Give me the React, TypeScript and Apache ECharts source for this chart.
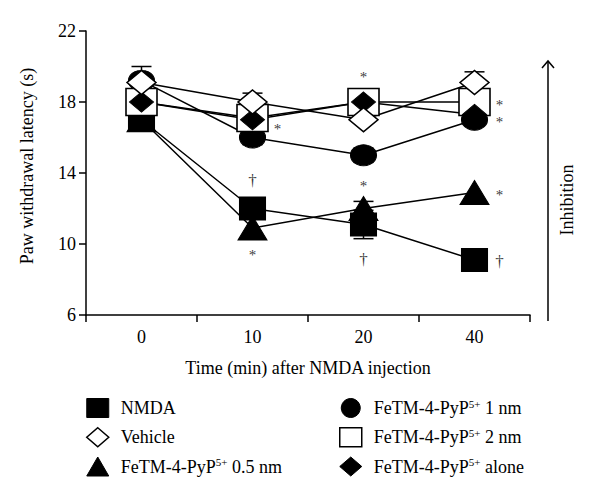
import React, { useEffect, useRef } from "react";
import * as echarts from "echarts";

const times = ["0", "10", "20", "40"];
const yTicks = [6, 10, 14, 18, 22];

const nmda = [17, 12, 11.1, 9.1];
const vehicle = [19.1, 18, 17, 19.1];
const pyp05 = [17, 10.9, 12, 12.9];
const pyp1 = [19.2, 16, 15, 17];
const pyp2 = [18, 17.1, 18, 18];
const alone = [18, 17, 18, 17.3];

const errNmda = [0, 0, 0.8, 0];
const errVehicle = [0, 0.5, 0, 0.6];
const errPyp05 = [0, 0, 0.4, 0];
const errPyp1 = [0.8, 0.4, 0.4, 0];

const annTime = ["10", "10", "10", "20", "20", "20", "40", "40", "40", "40"];
const annValue = [16.6, 13.6, 9.5, 19.5, 13.4, 9.1, 17.95, 17.0, 12.9, 9.0];
const annMark = ["*", "†", "*", "*", "*", "†", "*", "*", "*", "†"];
const annSide = ["right", "center", "center", "center", "center", "center", "right", "right", "right", "right"];

const legendLeft = ["NMDA", "Vehicle", "FeTM-4-PyP5+ 0.5 nm"];
const legendRight = ["FeTM-4-PyP5+ 1 nm", "FeTM-4-PyP5+ 2 nm", "FeTM-4-PyP5+ alone"];

const FONT = "'Liberation Serif', 'DejaVu Serif', 'Times New Roman', serif";
const FS = 18;

const filled = { color: "#000", borderColor: "#000", borderWidth: 1 };
const open = { color: "#fff", borderColor: "#000", borderWidth: 1.5 };

export default function App() {
  const ref = useRef<HTMLDivElement>(null);
  useEffect(() => {
    if (!ref.current) return;
    const chart = echarts.init(ref.current, undefined, { renderer: "svg" });

    const mk = (name: string, data: number[], symbol: string, size: number[], style: any) => ({
      name,
      type: "line",
      data,
      symbol,
      symbolSize: size,
      showAllSymbol: true,
      lineStyle: { color: "#000", width: 1.5 },
      itemStyle: style,
      z: 3,
    });

    const errData: any[] = [];
    [
      [nmda, errNmda],
      [vehicle, errVehicle],
      [pyp05, errPyp05],
      [pyp1, errPyp1],
    ].forEach(([vals, errs]) => {
      vals.forEach((v, i) => {
        if (errs[i] > 0) errData.push([i, v, errs[i]]);
      });
    });

    const annData = annTime.map((t, i) => {
      const star = annMark[i] === "*";
      return {
        value: [times.indexOf(t), annValue[i]],
        label: {
          formatter: annMark[i],
          fontSize: star ? 15 : 17,
          offset: [annSide[i] === "right" ? 25 : 0, star ? 2 : 0],
        },
      };
    });

    const fmt = (name: string) => {
      const k = name.indexOf("5+");
      if (k < 0) return `{b|${name}}`;
      return `{b|${name.slice(0, k)}}{s|5+}{b|${name.slice(k + 2)}}`;
    };
    const rich = {
      b: { fontSize: FS, fontFamily: FONT, color: "#000", lineHeight: 20 },
      s: { fontSize: 11, fontFamily: FONT, color: "#000", lineHeight: 12, verticalAlign: "top" },
    };
    const iconFor: Record<string, any> = {
      NMDA: { icon: "rect", itemStyle: filled },
      Vehicle: { icon: "diamond", itemStyle: open },
      "FeTM-4-PyP5+ 0.5 nm": { icon: "triangle", itemStyle: filled },
      "FeTM-4-PyP5+ 1 nm": { icon: "circle", itemStyle: filled },
      "FeTM-4-PyP5+ 2 nm": { icon: "rect", itemStyle: open },
      "FeTM-4-PyP5+ alone": { icon: "diamond", itemStyle: filled },
    };
    const mkLegend = (names: string[], left: number) => ({
      orient: "vertical",
      left,
      top: 398,
      padding: 0,
      itemWidth: 22,
      itemHeight: 19,
      itemGap: 9,
      selectedMode: false,
      formatter: fmt,
      textStyle: { rich, padding: [0, 0, 0, 7] },
      data: names.map((n) => ({ name: n, ...iconFor[n] })),
    });

    chart.setOption({
      animation: false,
      backgroundColor: "#fff",
      textStyle: { fontFamily: FONT },
      grid: { left: 86, right: 70, top: 31, bottom: 188, containLabel: false },
      xAxis: {
        type: "category",
        data: times,
        boundaryGap: true,
        axisLine: { lineStyle: { color: "#000", width: 1.5 } },
        axisTick: { show: true, length: 7, lineStyle: { color: "#000", width: 1.5 } },
        axisLabel: { color: "#000", fontSize: FS, fontFamily: FONT, margin: 13 },
        name: "Time (min) after NMDA injection",
        nameLocation: "middle",
        nameGap: 44,
        nameTextStyle: { color: "#000", fontSize: FS, fontFamily: FONT },
      },
      yAxis: {
        type: "value",
        min: 6,
        max: 22,
        axisLine: { show: true, lineStyle: { color: "#000", width: 1.5 } },
        axisTick: { show: true, length: 7, customValues: yTicks, lineStyle: { color: "#000", width: 1.5 } },
        axisLabel: { color: "#000", fontSize: FS, fontFamily: FONT, margin: 10, customValues: yTicks },
        splitLine: { show: false },
        name: "Paw withdrawal latency (s)",
        nameLocation: "middle",
        nameGap: 50,
        nameRotate: 90,
        nameTextStyle: { color: "#000", fontSize: FS, fontFamily: FONT, padding: [0, 0, 0, 14] },
      },
      legend: [mkLegend(legendLeft, 86), mkLegend(legendRight, 339)],
      graphic: [
        { type: "line", shape: { x1: 548, y1: 321, x2: 548, y2: 61 }, style: { stroke: "#000", lineWidth: 1.5 } },
        { type: "polyline", shape: { points: [[542, 68], [548, 61], [554, 68]] }, style: { stroke: "#000", lineWidth: 1.5, fill: "none" } },
        {
          type: "text",
          x: 567,
          y: 200,
          rotation: Math.PI / 2,
          style: { text: "Inhibition", fontSize: FS, fontFamily: FONT, fill: "#000", align: "center", verticalAlign: "middle" },
        },
      ],
      series: [
        {
          type: "custom",
          name: "err",
          z: 1,
          data: errData,
          renderItem: (params: any, api: any) => {
            const x = api.value(0);
            const v = api.value(1);
            const e = api.value(2);
            const top = api.coord([x, v + e]);
            const bot = api.coord([x, v - e]);
            const hw = 10;
            const st = { stroke: "#000", lineWidth: 1.5 };
            return {
              type: "group",
              children: [
                { type: "line", shape: { x1: top[0], y1: top[1], x2: bot[0], y2: bot[1] }, style: st },
                { type: "line", shape: { x1: top[0] - hw, y1: top[1], x2: top[0] + hw, y2: top[1] }, style: st },
                { type: "line", shape: { x1: bot[0] - hw, y1: bot[1], x2: bot[0] + hw, y2: bot[1] }, style: st },
              ],
            };
          },
        },
        mk("FeTM-4-PyP5+ 1 nm", pyp1, "circle", [26, 21], filled),
        mk("NMDA", nmda, "rect", [26, 23], filled),
        mk("FeTM-4-PyP5+ 0.5 nm", pyp05, "triangle", [29, 24], filled),
        mk("FeTM-4-PyP5+ 2 nm", pyp2, "rect", [31, 27], open),
        mk("FeTM-4-PyP5+ alone", alone, "diamond", [24, 20], filled),
        mk("Vehicle", vehicle, "diamond", [29, 24], open),
        {
          type: "scatter",
          name: "marks",
          symbolSize: 0,
          z: 5,
          data: annData,
          label: {
            show: true,
            position: "inside",
            color: "#000",
            fontFamily: FONT,
          },
        },
      ],
    });
    return () => chart.dispose();
  }, []);
  return <div ref={ref} style={{ position: "fixed", left: 0, top: 0, width: 600, height: 503 }} />;
}
